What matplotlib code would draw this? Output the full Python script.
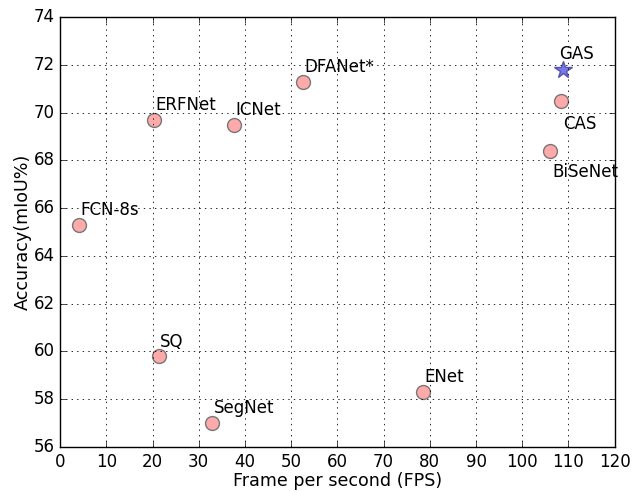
import matplotlib
matplotlib.use('Agg')
import matplotlib.pyplot as plt

plt.style.use('classic')

# method names, speed (FPS) and accuracy (mIoU %)
names = ['FCN-8s', 'ERFNet', 'ICNet', 'DFANet*', 'CAS', 'BiSeNet', 'SQ', 'SegNet', 'ENet']
fps = [4.1, 20.3, 37.6, 52.5, 108.3, 105.9, 21.4, 32.9, 78.5]
miou = [65.3, 69.7, 69.5, 71.3, 70.5, 68.4, 59.8, 57.0, 58.3]

ours_name = 'GAS'
ours_fps = 108.8
ours_miou = 71.8

# label offsets in points
offsets = {
    'FCN-8s': (1, 7), 'ERFNet': (1, 7), 'ICNet': (1, 7), 'DFANet*': (1, 7),
    'CAS': (2, -20), 'BiSeNet': (2, -19), 'SQ': (1, 7), 'SegNet': (1, 7), 'ENet': (1, 7),
}

fig = plt.figure(figsize=(6.39, 4.92), dpi=100)
ax = fig.add_axes([0.094, 0.0915, 0.868, 0.8735])

ax.plot(fps, miou, 'o', markersize=10, markerfacecolor='#ffaaaa',
        markeredgecolor='#777777', markeredgewidth=1, linestyle='none')
ax.plot([ours_fps], [ours_miou], '*', markersize=13, markerfacecolor='#7777ee',
        markeredgecolor='#5555aa', markeredgewidth=1, linestyle='none')

for n, x, y in zip(names, fps, miou):
    ax.annotate(n, (x, y), xytext=offsets[n], textcoords='offset points',
                ha='left', va='baseline', fontsize=12)
ax.annotate(ours_name, (ours_fps, ours_miou), xytext=(-3, 8), textcoords='offset points',
            ha='left', va='baseline', fontsize=12)

ax.set_xlim(0, 120)
ax.set_ylim(56, 74)
ax.set_xticks(range(0, 121, 10))
ax.set_yticks(range(56, 75, 2))
ax.grid(True, linestyle=':', color='black', linewidth=0.6)
ax.set_xlabel('Frame per second (FPS)', fontsize=12.6, labelpad=1)
ax.set_ylabel('Accuracy(mIoU%)', fontsize=12.6, labelpad=1)

fig.savefig('out.png', dpi=100, facecolor='white')
